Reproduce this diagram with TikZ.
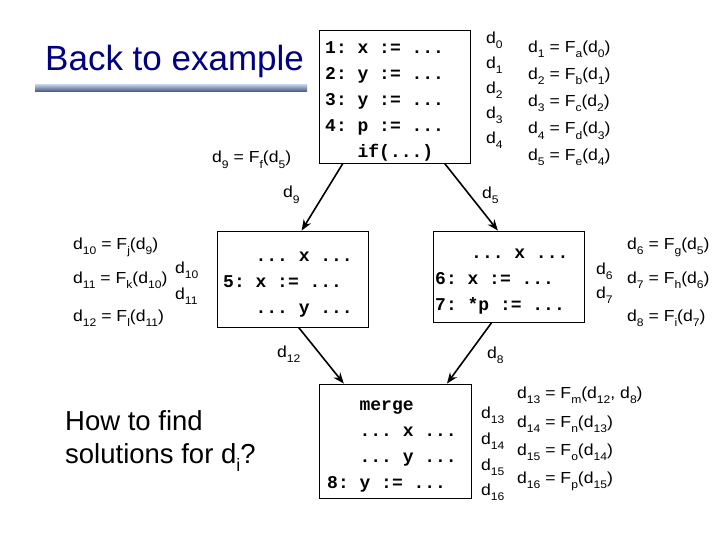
\documentclass[tikz,border=0pt]{standalone}
\usepackage{fontspec}
\setmainfont{Liberation Sans}
\setmonofont{Liberation Mono}
\newfontfamily\lblfont[FakeStretch=1.1]{Liberation Sans}
\usetikzlibrary{calc,arrows.meta}
\newcommand{\sbs}[1]{\raisebox{-0.32em}{\fontsize{11}{11}\selectfont #1}}
\newcommand{\dd}[1]{d\sbs{#1}}
\newcommand{\FF}[1]{F\sbs{#1}}
\newcommand{\lsp}[1]{\hspace*{#1}}
\newcommand{\codefont}{\fontsize{18}{26}\selectfont\ttfamily\bfseries\spaceskip=10.8pt\relax\xspaceskip=10.8pt\relax}
\definecolor{navy}{RGB}{0,0,128}
\tikzset{
  frame/.style={draw, line width=0.8pt, inner sep=0pt},
  code/.style={font=\codefont, align=left, inner sep=0pt, anchor=west},
  lbl/.style={font=\lblfont\fontsize{16}{20}\selectfont, anchor=base west, inner sep=0pt},
  flow/.style={line width=1.6pt, -{Stealth[length=11pt,width=8.5pt]}}
}
\begin{document}
\begin{tikzpicture}[x=1pt,y=-1pt]
\useasboundingbox (0,0) rectangle (720,540);
\fill[white] (0,0) rectangle (720,540);
% title
\node[anchor=base west, inner sep=0pt, text=navy, font=\fontsize{35}{40}\selectfont] (title) at (45,71) {Back to example};
\shade[top color={rgb,255:red,185;green,198;blue,220}, bottom color={rgb,255:red,60;green,80;blue,125}] (35,85) rectangle (307,92);
% box frames
\node[frame, minimum width=151pt, minimum height=133pt] (b1) at (394.5,96.5) {};
\node[frame, minimum width=151pt, minimum height=96pt] (b2) at (292.5,279) {};
\node[frame, minimum width=151pt, minimum height=91pt] (b3) at (508.5,276.5) {};
\node[frame, minimum width=152pt, minimum height=114pt] (b4) at (395,441) {};
% box texts
\node[code] (t1) at (325,101.5)
{1: x := ...\\2: y := ...\\3: y := ...\\4: p := ...\\\lsp{32.4pt}if(...)};
\node[code] (t2) at (223,285)
{\lsp{32.4pt}... x ...\\5: x := ...\\\lsp{32.4pt}... y ...};
\node[code] (t3) at (435,282)
{\lsp{36pt}... x ...\\6: x := ...\\7: *p := ...};
\node[code] (t4) at (327,447)
{\lsp{32.4pt}merge\\\lsp{32.4pt}... x ...\\\lsp{32.4pt}... y ...\\8: y := ...};
% arrows
\coordinate (a1s) at ($(b1.south west)!0.16!(b1.south east)$);
\coordinate (a1e) at ($(b2.north west)!0.56!(b2.north east)$);
\coordinate (a2s) at ($(b1.south west)!0.83!(b1.south east)$);
\coordinate (a2e) at ($(b3.north west)!0.43!(b3.north east)$);
\coordinate (a3s) at ($(b2.south west)!0.54!(b2.south east)$);
\coordinate (a3e) at ($(b4.north west)!0.165!(b4.north east)$);
\coordinate (a4s) at ($(b3.south west)!0.39!(b3.south east)$);
\coordinate (a4e) at ($(b4.north west)!0.84!(b4.north east)$);
\draw[flow] (a1s) -- (a1e);
\draw[flow] (a2s) -- (a2e);
\draw[flow] (a3s) -- (a3e);
\draw[flow] (a4s) -- (a4e);
% top labels
\node[lbl] (d0) at (486,43.5) {\dd{0}};
\node[lbl] (d1) at (486,68.5) {\dd{1}};
\node[lbl] (d2) at (486,93.5) {\dd{2}};
\node[lbl] (d3) at (486,118.5) {\dd{3}};
\node[lbl] (d4) at (486,143.5) {\dd{4}};
\node[lbl] (e1) at (528,52.5) {\dd{1} = \FF{a}(\dd{0})};
\node[lbl] (e2) at (528,79.5) {\dd{2} = \FF{b}(\dd{1})};
\node[lbl] (e3) at (528,106.5) {\dd{3} = \FF{c}(\dd{2})};
\node[lbl] (e4) at (528,134) {\dd{4} = \FF{d}(\dd{3})};
\node[lbl] (e5) at (528,160.5) {\dd{5} = \FF{e}(\dd{4})};
\node[lbl] (e9) at (212,163) {\dd{9} = \FF{f}(\dd{5})};
\node[lbl] (l9) at (283,198) {\dd{9}};
\node[lbl] (l5) at (482,198.5) {\dd{5}};
% left
\node[lbl] (e10) at (73,249.5) {\dd{10} = \FF{j}(\dd{9})};
\node[lbl] (e11) at (73,283) {\dd{11} = \FF{k}(\dd{10})};
\node[lbl] (e12) at (73,321.5) {\dd{12} = \FF{l}(\dd{11})};
\node[lbl] (d10) at (175,273) {\dd{10}};
\node[lbl] (d11) at (175,299.5) {\dd{11}};
% right
\node[lbl] (d6) at (596,274.5) {\dd{6}};
\node[lbl] (d7) at (596,298.5) {\dd{7}};
\node[lbl] (e6) at (627,249.5) {\dd{6} = \FF{g}(\dd{5})};
\node[lbl] (e7) at (627,283) {\dd{7} = \FF{h}(\dd{6})};
\node[lbl] (e8) at (627,321.5) {\dd{8} = \FF{i}(\dd{7})};
\node[lbl] (l12) at (277,357.5) {\dd{12}};
\node[lbl] (l8) at (487,358.5) {\dd{8}};
% bottom
\node[lbl] (d13) at (481,418) {\dd{13}};
\node[lbl] (d14) at (481,444) {\dd{14}};
\node[lbl] (d15) at (481,470) {\dd{15}};
\node[lbl] (d16) at (481,495) {\dd{16}};
\node[lbl] (e13) at (517,398.5) {\dd{13} = \FF{m}(\dd{12}, \dd{8})};
\node[lbl] (e14) at (517,427.5) {\dd{14} = \FF{n}(\dd{13})};
\node[lbl] (e15) at (517,455.5) {\dd{15} = \FF{o}(\dd{14})};
\node[lbl] (e16) at (517,483.5) {\dd{16} = \FF{p}(\dd{15})};
\node[anchor=north west, inner sep=0pt, align=left, font=\fontsize{27.5}{33}\selectfont] (q) at (65,410)
{How to find\\solutions for d\raisebox{-0.3em}{\fontsize{18}{18}\selectfont i}?};
\end{tikzpicture}
\end{document}
